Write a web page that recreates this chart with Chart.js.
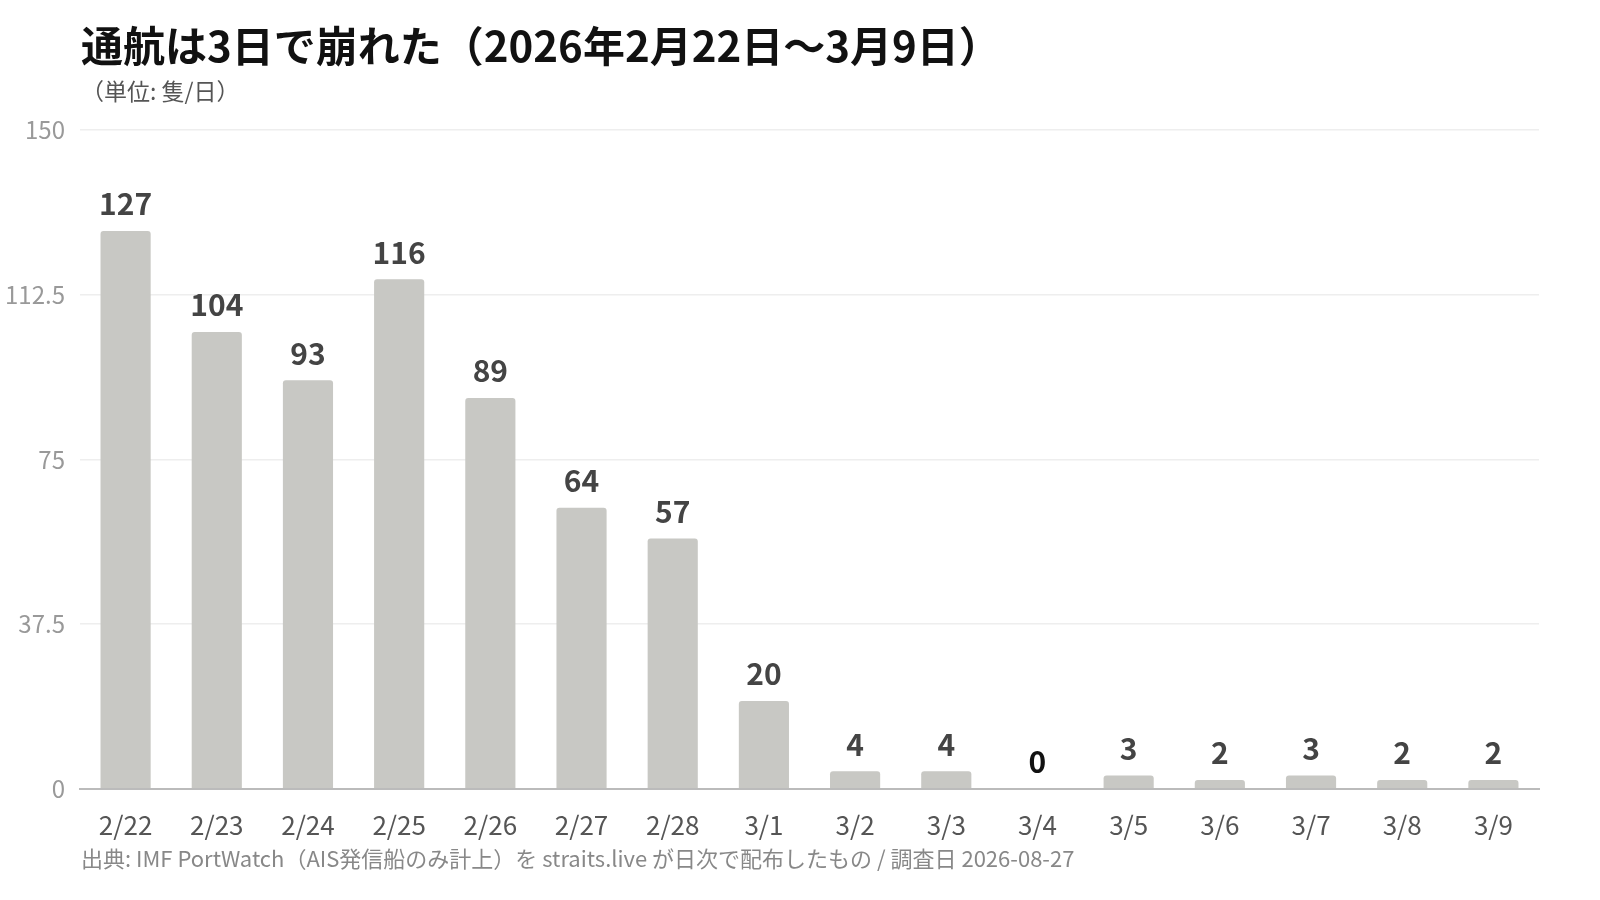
<!DOCTYPE html>
<html lang="ja">
<head>
<meta charset="utf-8">
<script src="https://cdn.jsdelivr.net/npm/chart.js@4.4.1/dist/chart.umd.min.js"></script>
<style>
  html, body { margin:0; padding:0; background:#fff; }
  body { width:1600px; height:900px; position:relative; overflow:hidden; font-family:"Noto Sans CJK JP","Noto Sans",sans-serif; }
  #title { position:absolute; left:81px; top:19px; font-size:42px; font-weight:700; color:#111; white-space:nowrap; line-height:1.2; }
  #sub { position:absolute; left:81px; top:76px; font-size:23px; color:#555; white-space:nowrap; line-height:1.3; }
  #foot { position:absolute; left:81px; top:843px; font-size:22px; color:#888; white-space:nowrap; line-height:1.3; }
  #wrap { position:absolute; left:0; top:0; width:1600px; height:900px; }
</style>
</head>
<body>
<div id="wrap"><canvas id="c" width="1600" height="900"></canvas></div>
<div id="title">通航は3日で崩れた（2026年2月22日〜3月9日）</div>
<div id="sub">（単位: 隻/日）</div>
<div id="foot">出典: IMF PortWatch（AIS発信船のみ計上）を straits.live が日次で配布したもの / 調査日 2026-08-27</div>
<script>
const categories = ["2/22","2/23","2/24","2/25","2/26","2/27","2/28","3/1","3/2","3/3","3/4","3/5","3/6","3/7","3/8","3/9"];
const transits = [127,104,93,116,89,64,57,20,4,4,0,3,2,3,2,2];
const yTicks = [0,37.5,75,112.5,150];

const FONT = '"Noto Sans CJK JP", "Noto Sans", sans-serif';

const valueLabels = {
  id: 'valueLabels',
  afterDatasetsDraw(chart) {
    const ctx = chart.ctx;
    const meta = chart.getDatasetMeta(0);
    ctx.save();
    ctx.font = '700 30px ' + FONT;
    ctx.textAlign = 'center';
    ctx.textBaseline = 'bottom';
    meta.data.forEach((bar, i) => {
      const v = transits[i];
      ctx.fillStyle = v === 0 ? '#111' : '#444';
      ctx.fillText(String(v), bar.x, bar.y - 12);
    });
    ctx.restore();
  }
};

new Chart(document.getElementById('c'), {
  type: 'bar',
  data: {
    labels: categories,
    datasets: [{
      data: transits,
      backgroundColor: '#c8c8c4',
      borderRadius: {topLeft:3, topRight:3, bottomLeft:0, bottomRight:0},
      borderSkipped: 'bottom',
      barPercentage: 0.55,
      categoryPercentage: 1.0
    }]
  },
  options: {
    responsive: false,
    animation: false,
    devicePixelRatio: 1,
    layout: { padding: { top: 130, right: 61, bottom: 46, left: 0 } },
    plugins: { legend: { display: false }, tooltip: { enabled: false } },
    scales: {
      x: {
        grid: { display: false },
        border: { display: true, color: '#bbbbbb', width: 2 },
        ticks: { color: '#555', padding: 13, font: { size: 26, family: FONT }, maxRotation: 0 }
      },
      y: {
        min: 0, max: 150,
        afterBuildTicks(scale) { scale.ticks = yTicks.map(v => ({ value: v })); },
        afterFit(scale) { scale.width = 80; },
        grid: { color: '#eeeeee', lineWidth: 1.5, drawTicks: false },
        border: { display: false },
        ticks: { color: '#999', padding: 15, font: { size: 24, family: FONT },
          callback: (v) => String(v) }
      }
    }
  },
  plugins: [valueLabels]
});
</script>
</body>
</html>
